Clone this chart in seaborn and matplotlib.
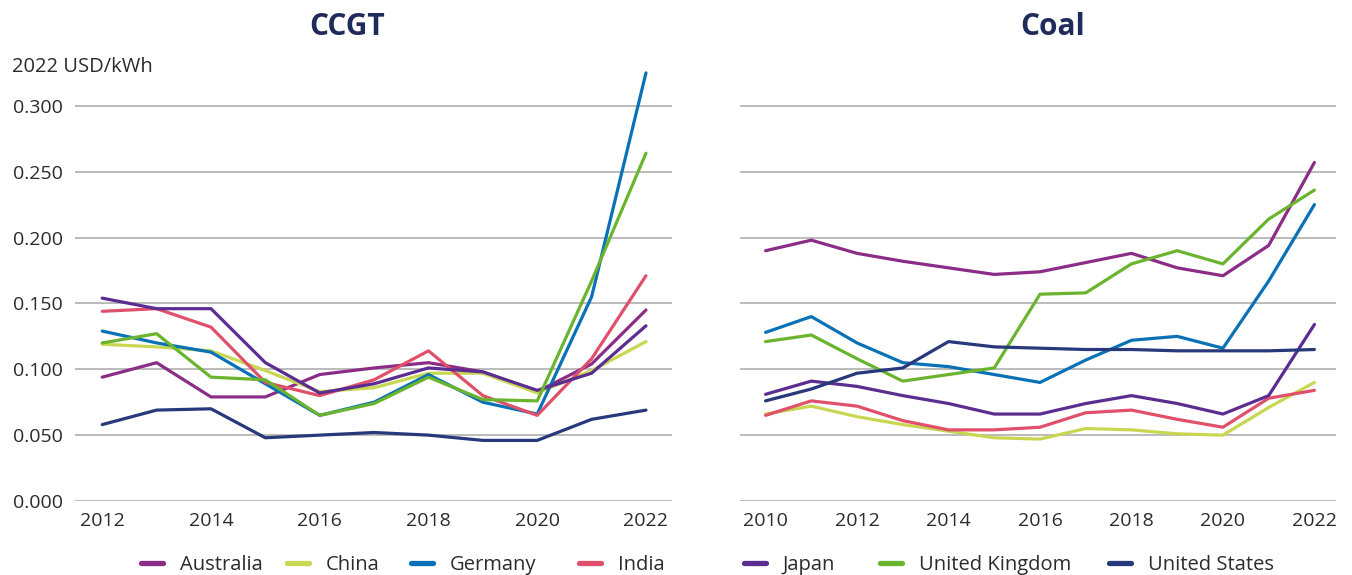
import numpy as np
import pandas as pd
import matplotlib
matplotlib.use("Agg")
import matplotlib.pyplot as plt
import seaborn as sns
from matplotlib.lines import Line2D
from matplotlib.ticker import FormatStrFormatter

countries = ["Australia", "China", "Germany", "India", "Japan", "United Kingdom", "United States"]
colors = ["#8B2D86", "#C8D752", "#0A71B6", "#E0506B", "#5B2D91", "#6AB42F", "#27397A"]

years_ccgt = list(range(2012, 2023))
ccgt = {
    "Australia":      [0.094, 0.105, 0.079, 0.079, 0.096, 0.101, 0.105, 0.098, 0.083, 0.104, 0.145],
    "China":          [0.119, 0.117, 0.114, 0.099, 0.083, 0.086, 0.097, 0.097, 0.082, 0.099, 0.121],
    "Germany":        [0.129, 0.120, 0.113, 0.089, 0.065, 0.075, 0.096, 0.075, 0.066, 0.155, 0.325],
    "India":          [0.144, 0.146, 0.132, 0.090, 0.080, 0.092, 0.114, 0.080, 0.065, 0.108, 0.171],
    "Japan":          [0.154, 0.146, 0.146, 0.105, 0.082, 0.089, 0.101, 0.098, 0.084, 0.097, 0.133],
    "United Kingdom": [0.120, 0.127, 0.094, 0.092, 0.065, 0.074, 0.094, 0.077, 0.076, 0.167, 0.264],
    "United States":  [0.058, 0.069, 0.070, 0.048, 0.050, 0.052, 0.050, 0.046, 0.046, 0.062, 0.069],
}

years_coal = list(range(2010, 2023))
coal = {
    "Australia":      [0.190, 0.198, 0.188, 0.182, 0.177, 0.172, 0.174, 0.181, 0.188, 0.177, 0.171, 0.194, 0.257],
    "China":          [0.066, 0.072, 0.064, 0.058, 0.053, 0.048, 0.047, 0.055, 0.054, 0.051, 0.050, 0.071, 0.090],
    "Germany":        [0.128, 0.140, 0.120, 0.105, 0.102, 0.096, 0.090, 0.107, 0.122, 0.125, 0.116, 0.167, 0.225],
    "India":          [0.065, 0.076, 0.072, 0.061, 0.054, 0.054, 0.056, 0.067, 0.069, 0.062, 0.056, 0.078, 0.084],
    "Japan":          [0.081, 0.091, 0.087, 0.080, 0.074, 0.066, 0.066, 0.074, 0.080, 0.074, 0.066, 0.080, 0.134],
    "United Kingdom": [0.121, 0.126, 0.108, 0.091, 0.096, 0.101, 0.157, 0.158, 0.180, 0.190, 0.180, 0.214, 0.236],
    "United States":  [0.076, 0.085, 0.097, 0.101, 0.121, 0.117, 0.116, 0.115, 0.115, 0.114, 0.114, 0.114, 0.115],
}

def to_long(data, years):
    rows = []
    for c in countries:
        for y, v in zip(years, data[c]):
            rows.append({"year": y, "value": v, "country": c})
    return pd.DataFrame(rows)

df_ccgt = to_long(ccgt, years_ccgt)
df_coal = to_long(coal, years_coal)

sns.set_theme(style="white")
plt.rcParams["font.family"] = ["Open Sans", "DejaVu Sans"]

W, H = 1352, 575
fig = plt.figure(figsize=(W / 100, H / 100), dpi=100)
ax1 = fig.add_axes([0.0555, 0.1287, 0.4416, 0.756])
ax2 = fig.add_axes([0.5473, 0.1287, 0.4408, 0.756])

palette = dict(zip(countries, colors))
text_color = "#2b2b2b"
title_color = "#1F2B5B"

for ax, df, xl in [(ax1, df_ccgt, (2011.5, 2022.48)),
                   (ax2, df_coal, (2009.44, 2022.47))]:
    sns.lineplot(data=df, x="year", y="value", hue="country", palette=palette,
                 hue_order=countries, linewidth=2.3, ax=ax, legend=False)
    ax.set_xlim(*xl)
    ax.set_ylim(0, 0.33)
    ax.set_yticks(np.arange(0, 0.31, 0.05))
    ax.yaxis.grid(True, color="#A8A8A8", linewidth=1.1)
    ax.xaxis.grid(False)
    for s in ax.spines.values():
        s.set_visible(False)
    ax.set_xlabel("")
    ax.set_ylabel("")
    ax.set_xticks(range(int(np.ceil(xl[0])), 2023, 2))
    ax.tick_params(axis="both", length=0, labelsize=14, colors=text_color)
    ax.tick_params(axis="x", pad=8)

ax1.yaxis.set_major_formatter(FormatStrFormatter("%.3f"))
ax2.set_yticklabels([])
ax1.tick_params(axis="y", pad=9)

fig.text(347 / W, 1 - 27 / H, "CCGT", fontsize=21.5, fontweight="bold", color=title_color,
         ha="center", va="center")
fig.text(1053 / W, 1 - 27 / H, "Coal", fontsize=21.5, fontweight="bold", color=title_color,
         ha="center", va="center")

fig.text(12 / W, 1 - 67 / H, "2022 USD/kWh", fontsize=14.5, color=text_color,
         ha="left", va="center")

handle_x = [138, 284, 408, 576, 741, 877, 1106]
for c, col, hx in zip(countries, colors, handle_x):
    h = Line2D([0], [0], color=col, linewidth=3.8, solid_capstyle="round")
    leg = fig.legend([h], [c], loc="center left", bbox_to_anchor=((hx + 2.5) / W, 1 - 565 / H),
                     frameon=False, fontsize=14.5, handlelength=1.1, handletextpad=0.85,
                     borderpad=0, borderaxespad=0, labelcolor=text_color)

fig.savefig("out.png", dpi=100)
